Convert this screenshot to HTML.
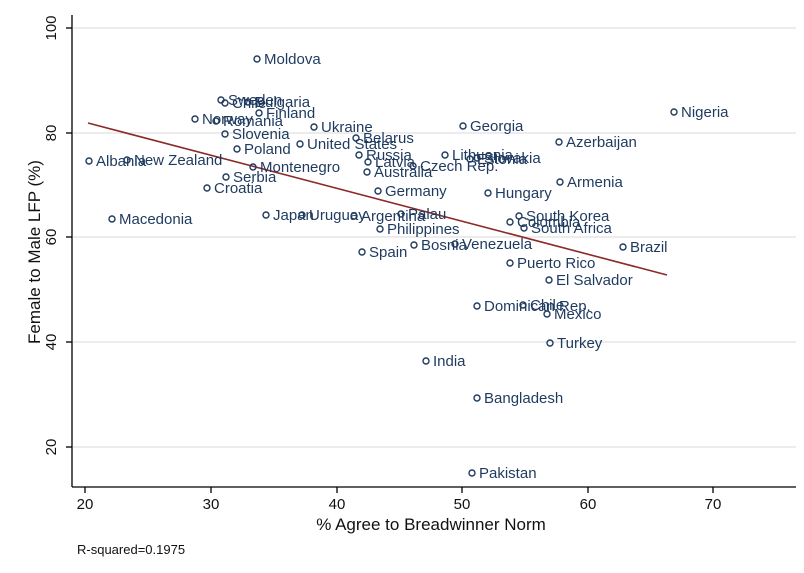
<!DOCTYPE html>
<html><head><meta charset="utf-8"><style>
html,body{margin:0;padding:0;background:#fff;}
svg text{font-family:"Liberation Sans",Arial,sans-serif;}
.l{font-size:15px;fill:#1e3a5f;}
.t{font-size:15px;fill:#111;}
</style></head><body>
<svg width="804" height="568" viewBox="0 0 804 568" xmlns="http://www.w3.org/2000/svg">
<rect width="804" height="568" fill="#fff"/>
<g stroke="#e6e6e6" stroke-width="1.5">
<line x1="73" y1="28" x2="796" y2="28"/><line x1="73" y1="133" x2="796" y2="133"/>
<line x1="73" y1="237" x2="796" y2="237"/><line x1="73" y1="342" x2="796" y2="342"/>
<line x1="73" y1="447" x2="796" y2="447"/>
</g>
<g stroke="#000" stroke-width="1.3">
<line x1="72" y1="15" x2="72" y2="487"/><line x1="72" y1="487" x2="796" y2="487"/>
<line x1="66" y1="28" x2="72" y2="28"/><line x1="66" y1="133" x2="72" y2="133"/><line x1="66" y1="237" x2="72" y2="237"/><line x1="66" y1="342" x2="72" y2="342"/><line x1="66" y1="447" x2="72" y2="447"/>
<line x1="85" y1="487" x2="85" y2="493"/><line x1="211" y1="487" x2="211" y2="493"/><line x1="337" y1="487" x2="337" y2="493"/><line x1="462" y1="487" x2="462" y2="493"/><line x1="588" y1="487" x2="588" y2="493"/><line x1="713" y1="487" x2="713" y2="493"/>
</g>
<g class="t" text-anchor="middle">
<text x="85" y="509">20</text><text x="211" y="509">30</text><text x="337" y="509">40</text><text x="462" y="509">50</text><text x="588" y="509">60</text><text x="713" y="509">70</text>
<text transform="translate(56,28) rotate(-90)">100</text>
<text transform="translate(56,133) rotate(-90)">80</text>
<text transform="translate(56,237) rotate(-90)">60</text>
<text transform="translate(56,342) rotate(-90)">40</text>
<text transform="translate(56,447) rotate(-90)">20</text>
<text x="431" y="530" style="font-size:17px">% Agree to Breadwinner Norm</text>
<text transform="translate(40,252) rotate(-90)" style="font-size:17px">Female to Male LFP (%)</text>
</g>
<text x="77" y="554" class="t" style="font-size:13px">R-squared=0.1975</text>
<line x1="88" y1="123" x2="667" y2="275" stroke="#8b2a2a" stroke-width="1.6"/>
<g fill="none" stroke="#1e3a5f" stroke-width="1.4" id="pts">
</g>
<g class="l" id="lbl"></g>
<script>
var d=[["Moldova",257,59],["Sweden",221,100],["Chile",225,103],["Bulgaria",248,102],["Finland",259,113],["Norway",195,119],["Romania",216,121],["Slovenia",225,134],["Ukraine",314,127],["Belarus",356,138],["United States",300,144],["Russia",359,155],["Latvia",368,162],["Australia",367,172],["Czech Rep.",413,166],["Poland",237,149],["Albania",89,161],["New Zealand",127,160],["Montenegro",253,167],["Serbia",226,177],["Croatia",207,188],["Germany",378,191],["Lithuania",445,155],["Estonia",470,159],["Slovakia",477,158],["Georgia",463,126],["Azerbaijan",559,142],["Armenia",560,182],["Hungary",488,193],["Macedonia",112,219],["Japan",266,215],["Uruguay",302,215],["Argentina",354,216],["Palau",401,214],["Philippines",380,229],["South Korea",519,216],["Colombia",510,222],["South Africa",524,228],["Spain",362,252],["Bosnia",414,245],["Venezuela",455,244],["Brazil",623,247],["Puerto Rico",510,263],["El Salvador",549,280],["Dominican Rep.",477,306],["Chile",523,305],["Mexico",547,314],["Turkey",550,343],["India",426,361],["Bangladesh",477,398],["Pakistan",472,473],["Nigeria",674,112]];
var ns="http://www.w3.org/2000/svg",P=document.getElementById("pts"),L=document.getElementById("lbl");
d.forEach(function(a){var c=document.createElementNS(ns,"circle");c.setAttribute("cx",a[1]);c.setAttribute("cy",a[2]);c.setAttribute("r",3);P.appendChild(c);
var t=document.createElementNS(ns,"text");t.setAttribute("x",a[1]+7);t.setAttribute("y",a[2]+5);t.textContent=a[0];L.appendChild(t);});
</script>
</svg>
</body></html>
